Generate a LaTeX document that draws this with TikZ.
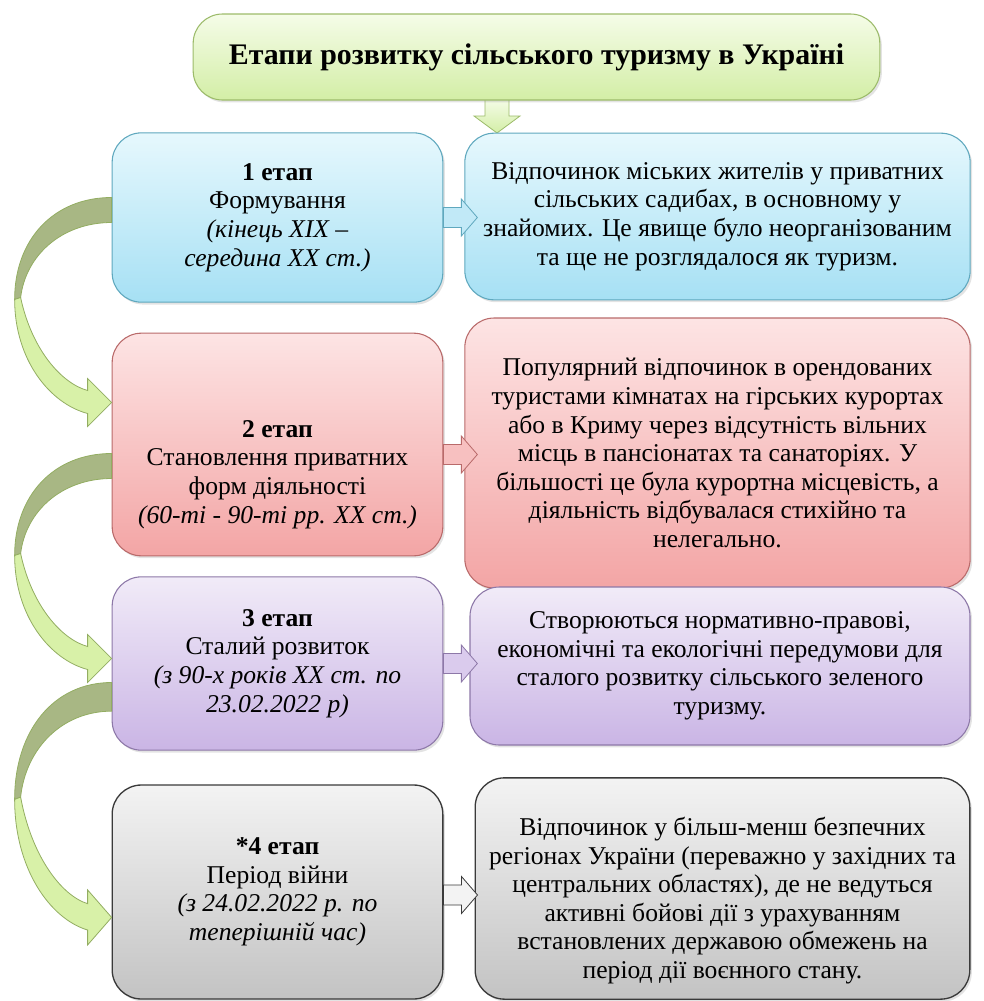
\documentclass[tikz,border=0pt]{standalone}
\usepackage{fontspec}
\setmainfont{Liberation Serif}
\usetikzlibrary{positioning,calc,shadows}

\definecolor{ttop}{HTML}{F5FCE8}\definecolor{tbot}{HTML}{D3EEA6}\definecolor{tline}{HTML}{9CBB6A}
\definecolor{btop}{HTML}{E6F8FD}\definecolor{bbot}{HTML}{A6E0F4}\definecolor{bline}{HTML}{5FA8BE}
\definecolor{rtop}{HTML}{FDE4E4}\definecolor{rbot}{HTML}{F3A5A5}\definecolor{rline}{HTML}{B96A6A}
\definecolor{ptop}{HTML}{F1EBF8}\definecolor{pbot}{HTML}{CAB5E5}\definecolor{pline}{HTML}{8D78A8}
\definecolor{gtop}{HTML}{F3F3F3}\definecolor{gbot}{HTML}{C3C3C3}\definecolor{gline}{HTML}{3A3A3A}
\definecolor{bendback}{HTML}{A8B784}\definecolor{bendfront}{HTML}{D8F1A8}\definecolor{bendline}{HTML}{93AD62}

\begin{document}
\begin{tikzpicture}[
  x=0.75pt, y=-0.75pt,
  font=\fontsize{19.2}{21.4}\selectfont,
  card/.style={draw, rounded corners=22pt, align=center, inner sep=4pt, line width=0.8pt,
    drop shadow={opacity=0.22, shadow xshift=1.5pt, shadow yshift=-1.8pt}},
  left card/.style={card, minimum width=248pt},
  blue/.style={top color=btop, bottom color=bbot, draw=bline},
  red/.style={top color=rtop, bottom color=rbot, draw=rline},
  violet/.style={top color=ptop, bottom color=pbot, draw=pline},
  grey/.style={top color=gtop, bottom color=gbot, draw=gline, line width=1pt},
  rarrow/.pic={\path[pic actions] (0,-10) -- (18,-10) -- (18,-18.5) -- (34,0) -- (18,18.5) -- (18,10) -- (0,10) -- cycle;},
  darrow/.pic={\path[pic actions] (-12,0) -- (-12,17) -- (-23,17) -- (0,34) -- (23,17) -- (12,17) -- (12,0) -- cycle;},
  bentarrow/.pic={
    \filldraw[fill=bendback, draw=bendline, line width=0.6pt] (0,0) .. controls (-58,0) and (-97,42) .. (-97,102)
      -- (-91,100) .. controls (-86,58) and (-50,25) .. (0,25) -- cycle;
    \filldraw[fill=bendfront, draw=bendline, line width=0.6pt] (-97,102) .. controls (-97,162) and (-62,206) .. (-24,216)
      -- (-24,229) -- (0,205) -- (-24,181) -- (-24,193) .. controls (-50,186) and (-80,152) .. (-91,100) -- cycle;}
]
\useasboundingbox (0,0) rectangle (984,1001);

% ---- Title ----
\pic[top color=ttop, bottom color=tbot, draw=tline, line width=0.6pt] at (497,99) {darrow};
\node[card, top color=ttop, bottom color=tbot, draw=tline, minimum width=515pt, minimum height=64.5pt,
  font=\fontsize{22.4}{26}\selectfont\bfseries] (title) at (536.5,57) {Етапи розвитку сільського туризму в Україні};

% ---- Stages ----
\node[left card, blue, minimum height=127pt] (s1) at (277.5,217.5)
  {\textbf{1 етап}\\Формування\\\textit{(кінець XIX –}\\\textit{середина XX ст.)}};
\node[left card, red, minimum height=167pt] (s2) at (277.5,444.5) {};
\node[align=center] (s2txt) at ($(s2.center)+(0,30)$)
  {\textbf{2 етап}\\Становлення приватних\\форм діяльності\\\textit{(60-ті - 90-ті рр. XX ст.)}};
\node[left card, violet, minimum height=130pt] (s3) at (277.5,663.5)
  {\textbf{3 етап}\\Сталий розвиток\\\textit{(з 90-х років XX ст. по}\\\textit{23.02.2022 р)}};
\node[left card, grey, minimum height=160.5pt] (s4) at (277.5,892)
  {\textbf{*4 етап}\\Період війни\\\textit{(з 24.02.2022 р. по}\\\textit{теперішній час)}};

% ---- Descriptions ----
\node[card, blue, minimum width=379pt, minimum height=125pt] (d1) at (717.5,216.5)
  {Відпочинок міських жителів у приватних\\сільських садибах, в основному у\\знайомих. Це явище було неорганізованим\\та ще не розглядалося як туризм.};
\node[card, red, minimum width=379pt, minimum height=202.5pt] (d2) at (717.5,453)
  {Популярний відпочинок в орендованих\\туристами кімнатах на гірських курортах\\або в Криму через відсутність вільних\\місць в пансіонатах та санаторіях. У\\більшості це була курортна місцевість, а\\діяльність відбувалася стихійно та\\нелегально.};
\node[card, violet, minimum width=375pt, minimum height=118.5pt] (d3) at (720,666)
  {Створюються нормативно-правові,\\економічні та екологічні передумови для\\сталого розвитку сільського зеленого\\туризму.};
\node[card, grey, minimum width=371pt, minimum height=166pt] (d4) at (722.5,888.5) {};
\node[align=center] (d4txt) at ($(d4.center)+(0,12)$)
  {Відпочинок у більш-менш безпечних\\регіонах України (переважно у західних та\\центральних областях), де не ведуться\\активні бойові дії з урахуванням\\встановлених державою обмежень на\\період дії воєнного стану.};

% arrows
\pic[fill=bbot!70, draw=bline, line width=0.6pt] at (s1.east) {rarrow};
\pic[fill=rbot!70, draw=rline, line width=0.6pt] at ($(s2.east)+(0,10)$) {rarrow};
\pic[fill=pbot!70, draw=pline, line width=0.6pt] at (s3.east) {rarrow};
\pic[fill=gtop, draw=gline, line width=0.6pt] at ($(s4.east)+(0,3)$) {rarrow};
\pic at ($(s1.west)+(0,-20)$) {bentarrow};
\pic at ($(s2.west)+(0,9)$) {bentarrow};
\pic[yscale=1.146] at ($(s3.west)+(0,19)$) {bentarrow};
\end{tikzpicture}
\end{document}
